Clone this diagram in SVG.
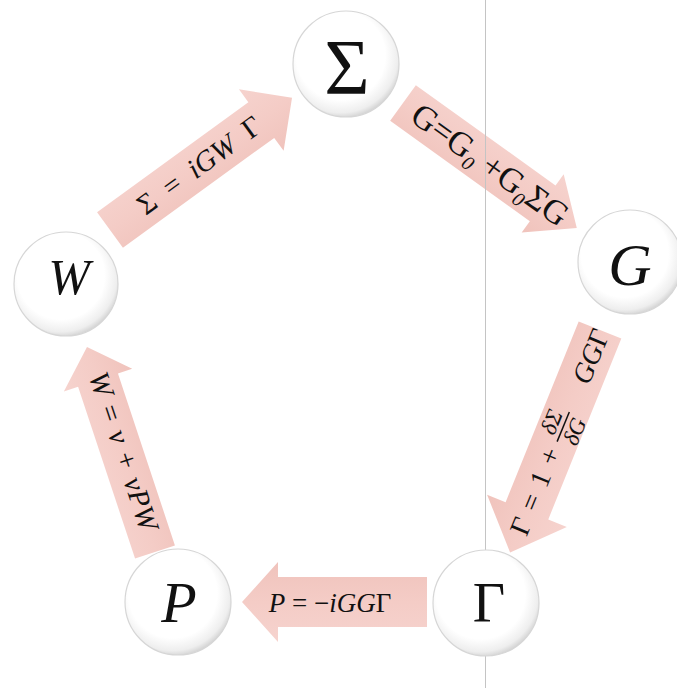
<svg xmlns="http://www.w3.org/2000/svg" width="677" height="688" viewBox="0 0 677 688">
<defs>
<radialGradient id="pearl" cx="0.45" cy="0.42" r="0.6">
<stop offset="0" stop-color="#ffffff"/>
<stop offset="0.7" stop-color="#ffffff"/>
<stop offset="0.9" stop-color="#eeeeee"/>
<stop offset="1" stop-color="#d0d0d0"/>
</radialGradient>
<linearGradient id="pink" x1="0" y1="0" x2="0" y2="1">
<stop offset="0" stop-color="#f6d3ce"/>
<stop offset="0.5" stop-color="#f4ccc6"/>
<stop offset="1" stop-color="#f0c3bc"/>
</linearGradient>
</defs>
<style>
.node circle{fill:url(#pearl);stroke:#d6d6d6;stroke-width:1.2}
.big{font-family:"Liberation Serif","DejaVu Serif",serif;fill:#111;text-anchor:middle}
.arr{fill:url(#pink)}
.lbl{font-family:"Liberation Serif","DejaVu Serif",serif;fill:#111}
.it{font-style:italic}
</style>
<rect width="677" height="688" fill="#ffffff"/>
<g id="connectors">
<path class="arr" transform="translate(110,230) rotate(-36)" d="M0,-22 L187,-22 L187,-38 L225,0 L187,38 L187,22 L0,22 Z"/>
<path class="arr" transform="translate(403,103) rotate(35.7)" d="M0,-22 L172,-22 L172,-36 L214,0 L172,36 L172,22 L0,22 Z"/>
<path class="arr" transform="translate(600,330) rotate(112)" d="M0,-23 L195,-23 L195,-43 L240,0 L195,43 L195,23 L0,23 Z"/>
<path class="arr" transform="translate(427,602) rotate(180)" d="M0,-25 L149,-25 L149,-40 L185,0 L149,40 L149,25 L0,25 Z"/>
<path class="arr" transform="translate(155,552) rotate(-108.35)" d="M0,-21 L181,-21 L181,-36 L216,0 L181,36 L181,21 L0,21 Z"/>
<g transform="translate(199,165) rotate(-36)">
<text class="lbl" x="0" y="10" font-size="29" text-anchor="middle" word-spacing="7" xml:space="preserve">Σ = <tspan class="it">iGW</tspan> Γ</text>
</g>
<g transform="translate(490,165) rotate(35.7)">
<text class="lbl" x="0" y="11" font-size="34" text-anchor="middle">G=G<tspan font-size="20" class="it" dy="7">0</tspan><tspan dy="-7"> +G</tspan><tspan font-size="20" class="it" dy="7">0</tspan><tspan dy="-7">ΣG</tspan></text>
</g>
<g transform="translate(560,432) rotate(-67.6)">
<text class="lbl" x="-110" y="9" font-size="28" word-spacing="3" xml:space="preserve">Γ = 1 +</text>
<text class="lbl it" x="6" y="-4" font-size="23" text-anchor="middle">δΣ</text>
<line x1="-10" y1="1" x2="22" y2="1" stroke="#111" stroke-width="1.5"/>
<text class="lbl it" x="6" y="21" font-size="23" text-anchor="middle">δG</text>
<text class="lbl" x="110" y="9" font-size="28" text-anchor="end"><tspan class="it">GG</tspan>Γ</text>
</g>
<text class="lbl" x="330" y="612" font-size="27" text-anchor="middle" xml:space="preserve"><tspan class="it">P</tspan> = −<tspan class="it">iGG</tspan>Γ</text>
<g transform="translate(124,451) rotate(71.6)">
<text class="lbl" x="0" y="10" font-size="29" text-anchor="middle" word-spacing="3" xml:space="preserve"><tspan class="it">W</tspan> = <tspan class="it">ν</tspan> + <tspan class="it">νPW</tspan></text>
</g>
</g>
<line x1="485.5" y1="0" x2="485.5" y2="688" stroke="#c4c4c4" stroke-width="1"/>
<g id="node-sigma" class="node">
<circle cx="346" cy="64" r="53"/>
<text class="big" x="347" y="93" font-size="78">Σ</text>
</g>
<g id="node-G" class="node">
<circle cx="630" cy="262" r="52"/>
<text class="big it" x="630" y="285" font-size="60">G</text>
</g>
<g id="node-Gamma" class="node">
<circle cx="486" cy="603" r="53"/>
<text class="big" x="489" y="622" font-size="56">Γ</text>
</g>
<g id="node-P" class="node">
<circle cx="178" cy="602" r="53"/>
<text class="big it" x="179" y="622" font-size="58">P</text>
</g>
<g id="node-W" class="node">
<circle cx="66" cy="284" r="52"/>
<text class="big it" x="69" y="294" font-size="50">W</text>
</g>
</svg>
